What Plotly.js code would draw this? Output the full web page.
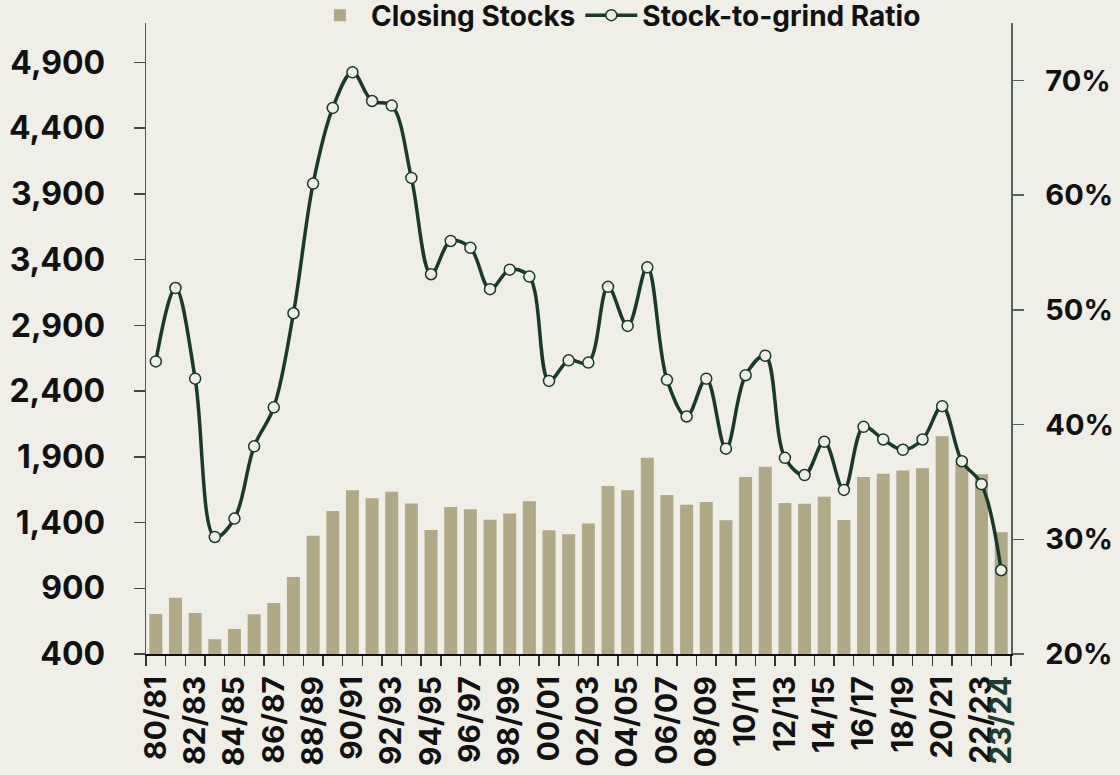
<!DOCTYPE html>
<html>
<head>
<meta charset="utf-8">
<script src="https://cdn.plot.ly/plotly-3.0.1.min.js"></script>
<style>
  html, body { margin: 0; padding: 0; background: #efeee7; }
  #chart { width: 1120px; height: 775px; }
</style>
</head>
<body>
<div id="chart"></div>
<script>
const seasons = ["80/81","81/82","82/83","83/84","84/85","85/86","86/87","87/88","88/89","89/90",
  "90/91","91/92","92/93","93/94","94/95","95/96","96/97","97/98","98/99","99/00",
  "00/01","01/02","02/03","03/04","04/05","05/06","06/07","07/08","08/09","09/10",
  "10/11","11/12","12/13","13/14","14/15","15/16","16/17","17/18","18/19","19/20",
  "20/21","21/22","22/23","23/24"];

const closingStocks = [705, 828, 712, 512, 590, 702, 788, 986, 1300, 1488,
  1646, 1585, 1635, 1544, 1344, 1519, 1501, 1422, 1468, 1562,
  1341, 1311, 1392, 1678, 1646, 1892, 1610, 1536, 1557, 1417,
  1747, 1825, 1549, 1542, 1597, 1420, 1747, 1772, 1795, 1813,
  2057, 1845, 1768, 1326];

const stockToGrind = [45.5, 51.9, 44.0, 30.2, 31.8, 38.1, 41.5, 49.7, 61.0, 67.6,
  70.7, 68.2, 67.8, 61.5, 53.1, 56.0, 55.4, 51.8, 53.5, 52.9,
  43.8, 45.6, 45.4, 52.0, 48.6, 53.7, 43.9, 40.7, 44.0, 37.9,
  44.3, 46.0, 37.1, 35.6, 38.5, 34.3, 39.8, 38.7, 37.8, 38.7,
  41.6, 36.8, 34.8, 27.3].map(v => v / 100);

const leftTicks = [400, 900, 1400, 1900, 2400, 2900, 3400, 3900, 4400, 4900];
const rightTicks = [0.2, 0.3, 0.4, 0.5, 0.6, 0.7];

const tickText = seasons.map((s, i) => {
  if (i === seasons.length - 1) return '<span style="color:#1d3d2e">' + s + '</span>';
  return i % 2 === 0 ? s : '';
});

const FONT = 'Inter, "Open Sans", sans-serif';

const traces = [
  {
    type: 'bar',
    name: 'Closing Stocks',
    x: seasons,
    y: closingStocks,
    marker: { color: '#afa986' },
    yaxis: 'y',
    hoverinfo: 'x+y'
  },
  {
    type: 'scatter',
    mode: 'lines+markers',
    name: 'Stock-to-grind Ratio',
    x: seasons,
    y: stockToGrind,
    yaxis: 'y2',
    line: { color: '#183a2b', width: 3.5, shape: 'spline', smoothing: 1 },
    marker: { size: 11, color: '#efeee7', line: { color: '#183a2b', width: 1.5 } }
  }
];

const layout = {
  width: 1120,
  height: 775,
  paper_bgcolor: '#efeee7',
  plot_bgcolor: '#efeee7',
  font: { family: FONT, color: '#111111', size: 28, weight: 700 },
  margin: { l: 146, r: 109, t: 23, b: 121, autoexpand: false },
  bargap: 0.34,
  showlegend: true,
  legend: {
    orientation: 'h',
    x: 0.545, xanchor: 'center',
    y: 1.012, yanchor: 'middle',
    font: { family: FONT, size: 28, color: '#111111', weight: 700 },
    itemwidth: 52,
    bgcolor: 'rgba(0,0,0,0)'
  },
  xaxis: {
    type: 'category',
    categoryorder: 'array',
    categoryarray: seasons,
    range: [-0.5, seasons.length - 0.5],
    tickmode: 'array',
    tickvals: seasons,
    ticktext: tickText,
    tickson: 'boundaries',
    tickangle: -90,
    ticks: 'outside',
    ticklen: 10,
    tickwidth: 1.5,
    tickcolor: '#333333',
    ticklabelstandoff: 8,
    tickfont: { family: FONT, size: 30, color: '#111111', weight: 700 },
    showline: true,
    linecolor: '#111111',
    linewidth: 2,
    showgrid: false,
    zeroline: false,
    fixedrange: true
  },
  yaxis: {
    range: [400, 5200],
    tickmode: 'array',
    tickvals: leftTicks,
    ticktext: leftTicks.map(v => v.toLocaleString('en-US')),
    ticks: 'outside',
    ticklen: 11,
    tickwidth: 1.5,
    tickcolor: '#444444',
    ticklabelstandoff: 22,
    tickfont: { family: FONT, size: 32, color: '#111111', weight: 700 },
    showline: true,
    linecolor: '#555555',
    linewidth: 1.5,
    showgrid: false,
    zeroline: false,
    fixedrange: true
  },
  yaxis2: {
    overlaying: 'y',
    side: 'right',
    range: [0.2, 0.75],
    tickmode: 'array',
    tickvals: rightTicks,
    ticktext: rightTicks.map(v => Math.round(v * 100) + '%'),
    ticks: 'outside',
    ticklen: 11,
    tickwidth: 1.5,
    tickcolor: '#4d6360',
    ticklabelstandoff: 16,
    tickfont: { family: FONT, size: 29, color: '#111111', weight: 700 },
    showline: true,
    linecolor: '#4d6360',
    linewidth: 1.5,
    showgrid: false,
    zeroline: false,
    fixedrange: true
  }
};

Plotly.newPlot('chart', traces, layout, { displayModeBar: false, staticPlot: true });
</script>
</body>
</html>
